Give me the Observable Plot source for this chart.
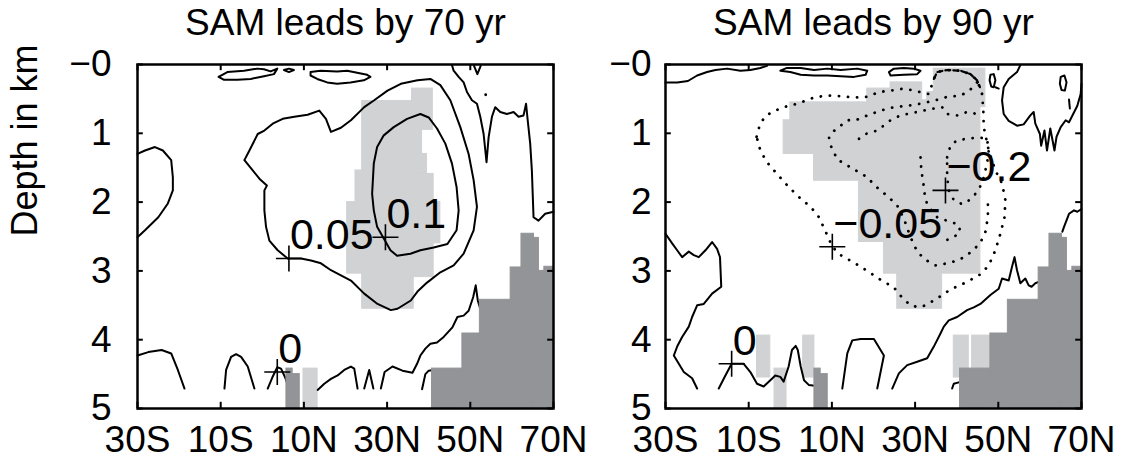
<!DOCTYPE html>
<html><head><meta charset="utf-8">
<script src="https://cdn.jsdelivr.net/npm/d3@7"></script>
<script src="https://cdn.jsdelivr.net/npm/@observablehq/plot@0.6"></script>
<style>
body{margin:0;background:#fff;}
#wrap{position:relative;width:1123px;height:464px;overflow:hidden;background:#fff;}
#wrap > div{position:absolute;top:0;}
svg{background:transparent !important;}
</style></head>
<body><div id="wrap"><div id="p1" style="left:0px"></div><div id="p2" style="left:560px"></div></div>
<script>
// ---------- axes ----------
const LAT_TICKS = [-30, -10, 10, 30, 50, 70];
const LAT_LABELS = ["30S", "10S", "10N", "30N", "50N", "70N"];
const DEPTH_TICKS = [0, 1, 2, 3, 4, 5];
const DEPTH_LABELS = ["\u22120", "1", "2", "3", "4", "5"];
const TITLES = ["SAM leads by 70 yr", "SAM leads by 90 yr"];
const Y_LABEL = "Depth in km";

// ---------- bottom topography [lat1, lat2, top depth] ----------
const topography = [[5.8,7.3,4.42],[7.3,9.0,4.5],[40.8,48.1,4.42],[48.1,52.3,3.91],[52.3,59.7,3.42],[59.7,62.3,2.95],[62.3,65.3,2.46],[65.3,66.5,2.52],[66.5,67.8,3.0],[67.8,70,2.94]];

// ---------- significance shading [lat1, lat2, depth1, depth2] ----------
const shade70 = [[20.4,24.0,2.0,3.04],[22.4,24.0,1.54,2.0],[24.0,36.4,0.53,3.55],[36.0,41.0,0.35,0.95],[36.0,38.4,0.95,1.3],[36.0,39.6,1.3,1.59],[36.0,41.2,1.59,2.0],[36.0,42.8,2.0,2.6],[36.0,41.2,2.6,3.09],[9.9,13.3,4.42,5.0]];
const shade90 = [[-1.6,0.0,0.81,1.30],[0.0,5.7,0.55,1.30],[5.7,16.5,0.55,1.69],[16.5,18.5,0.55,2.58],[18.5,22.5,0.35,2.58],[22.5,24.1,0.35,3.04],[24.1,25.7,0.26,3.04],[25.7,31.7,0.26,3.55],[31.7,32.9,0.52,3.55],[32.9,34.5,0.40,3.55],[34.5,36.5,0.06,3.55],[36.5,45.7,0.06,3.04],[45.7,46.9,0.06,0.62],[-8.0,-4.8,3.94,4.55],[-3.8,-0.9,4.42,5.0],[3.1,5.8,3.94,4.55],[39.3,42.9,3.94,4.55],[43.7,48.1,3.94,4.42]];

// ---------- panel 1 (70 yr) contours [lat, depth] ----------
const c70_p05 = [[-4.3,1.39],[-3.1,1.25],[-1.1,1.01],[0.5,0.96],[2.5,0.86],[4.9,0.79],[7.7,0.76],[10.9,0.73],[13.7,0.67],[15.3,0.79],[16.5,0.98],[18.9,0.92],[21.3,0.81],[24.5,0.62],[26.9,0.52],[30.1,0.38],[33.3,0.28],[37.3,0.23],[40.4,0.21],[42.8,0.30],[45.2,0.52],[47.6,0.91],[49.6,1.30],[50.8,1.68],[51.6,2.07],[50.8,2.41],[48.4,2.75],[46.0,2.92],[42.8,3.02],[39.6,3.17],[37.3,3.30],[35.7,3.43],[32.5,3.55],[30.9,3.57],[27.7,3.48],[24.5,3.33],[21.3,3.14],[16.5,2.99],[14.1,2.89],[11.7,2.85],[9.3,2.82],[6.1,2.82],[3.7,2.70],[1.7,2.56],[0.9,2.36],[0.5,2.12],[0.5,1.83],[1.1,1.76],[-0.7,1.66],[-2.3,1.54],[-4.3,1.39]];
const c70_p10 = [[26.4,1.88],[26.8,1.44],[27.6,1.20],[29.2,1.03],[31.6,0.91],[34.8,0.79],[38.0,0.72],[40.0,0.77],[42.0,0.93],[44.0,1.15],[45.6,1.44],[46.7,1.78],[47.2,2.12],[46.7,2.41],[44.5,2.61],[41.2,2.66],[38.0,2.70],[35.6,2.75],[32.4,2.78],[30.8,2.70],[29.2,2.53],[27.6,2.36],[26.8,2.12],[26.4,1.88]];
const c70_west = [[-30,1.30],[-28.2,1.25],[-25.8,1.20],[-23.9,1.25],[-21.9,1.39],[-21.5,1.64],[-21.5,1.83],[-22.7,2.02],[-25.0,2.22],[-28.2,2.41],[-30,2.51]];
const c70_surfA = [[-10.5,0.18],[-8.4,0.11],[-4.4,0.09],[-1.2,0.06],[0.4,0.07],[2.0,0.10],[3.6,0.06],[2.8,0.14],[0.4,0.17],[-2.8,0.21],[-6.0,0.22],[-9.3,0.22],[-10.5,0.18]];
const c70_surfB = [[5.2,0.08],[6.4,0.06],[7.6,0.08],[6.4,0.11],[5.2,0.08]];
const c70_surfC = [[11.6,0.11],[14.0,0.09],[18.0,0.10],[20.4,0.09],[22.8,0.12],[25.2,0.15],[26.0,0.18],[24.4,0.23],[21.2,0.26],[18.0,0.28],[15.6,0.26],[13.2,0.21],[11.6,0.16],[11.6,0.11]];
const c70_north = [[45.6,0.01],[46.0,0.09],[47.2,0.18],[48.4,0.26],[49.2,0.40],[50.4,0.52],[51.6,0.57],[52.4,0.76],[53.2,1.01],[53.9,1.42],[54.4,1.06],[55.2,0.76],[56.0,0.62],[57.2,0.69],[58.8,0.72],[60.4,0.69],[61.6,0.76],[62.8,0.74],[63.4,0.57],[63.8,0.81],[64.4,1.15],[64.8,1.54],[65.0,1.88],[65.2,2.22],[66.4,2.27],[68.0,2.17],[70.0,2.14]];
const c70_vee = [[50.9,0.02],[51.7,0.14],[52.5,0.02]];
const c70_b1 = [[-30,4.23],[-27.4,4.18],[-24.2,4.15],[-21.9,4.20],[-20.3,4.44],[-18.7,4.71]];
const c70_b2 = [[-9.1,4.71],[-8.7,4.44],[-7.5,4.25],[-6.3,4.21],[-5.1,4.25],[-3.5,4.39],[-1.9,4.71]];
const c70_b3 = [[1.3,4.71],[2.4,4.55],[3.6,4.40],[4.5,4.42],[5.5,4.55],[5.9,4.62]];
const c70_b4 = [[13.3,4.73],[14.9,4.64],[16.5,4.57],[18.1,4.52],[19.7,4.44],[21.3,4.39],[22.1,4.42],[22.9,4.71]];
const c70_b5 = [[24.5,4.71],[25.7,4.44],[26.7,4.71]];
const c70_b6 = [[28.5,4.71],[29.4,4.47],[31.3,4.39],[33.7,4.45],[36.1,4.48],[37.2,4.35],[38.0,4.23],[39.2,4.13],[40.4,4.06],[42.0,4.04],[43.6,3.96],[45.7,3.82],[46.9,3.67],[48.4,3.65],[49.6,3.58],[50.7,3.38],[51.3,3.21],[51.8,3.43],[52.4,3.55]];
const c70_b7 = [[38.4,4.72],[39.2,4.50],[40.0,4.45],[41.0,4.44]];
const c70_dots = [[53.7,0.44],[53.7,0.53]];
const plus70 = [[6.4,2.82,"0.05"],[29.6,2.51,"0.1"],[3.6,4.47,"0"]];

// ---------- panel 2 (90 yr) contours [lat, depth] ----------
const c90_surfW = [[-30,0.26],[-27.2,0.26],[-24.6,0.24],[-22.4,0.16],[-20.0,0.11],[-18.0,0.08],[-15.2,0.06],[-12.0,0.09],[-9.6,0.08],[-7.2,0.05],[-5.6,0.02]];
const c90_surfA = [[-2.4,0.09],[0.0,0.11],[2.5,0.15],[5.7,0.16],[8.9,0.16],[12.1,0.17],[15.3,0.18],[18.1,0.15],[18.5,0.09],[16.1,0.06],[12.1,0.08],[8.9,0.06],[5.7,0.08],[2.5,0.05],[-0.8,0.05],[-2.4,0.09]];
const c90_surfB = [[23.7,0.11],[24.9,0.06],[27.3,0.05],[29.7,0.06],[31.3,0.09],[30.5,0.14],[27.3,0.15],[24.1,0.16],[23.7,0.11]];
const c90_north = [[55.3,0.01],[54.5,0.11],[52.5,0.21],[51.3,0.33],[50.9,0.52],[51.3,0.72],[52.5,0.82],[54.5,0.89],[56.1,0.87],[57.7,0.74],[58.5,0.69],[58.9,0.86],[60.0,1.01],[60.3,1.18],[61.1,0.96],[61.7,1.25],[62.5,0.93],[63.5,1.25],[64.0,1.05],[65.0,0.91],[66.2,0.81],[67.0,0.84],[68.0,0.72],[69.0,0.60],[69.8,0.43],[70.0,0.28]];
const c90_loopA = [[48.1,0.15],[48.9,0.14],[49.3,0.23],[48.9,0.33],[48.3,0.32],[47.9,0.23],[48.1,0.15]];
const c90_tailA = [[49.3,0.33],[50.1,0.35]];
const c90_loopB = [[65.0,0.18],[65.9,0.16],[66.4,0.26],[66.0,0.38],[65.2,0.37],[64.8,0.28],[65.0,0.18]];
const c90_tickB = [[67.0,0.51],[67.2,0.64]];
const c90_west = [[-30.0,2.46],[-28.4,2.60],[-27.2,2.70],[-26.0,2.80],[-24.4,2.72],[-23.2,2.77],[-22.0,2.80],[-20.4,2.70],[-18.8,2.58],[-17.6,2.68],[-16.9,2.80],[-16.6,3.23],[-18.8,3.33],[-20.8,3.48],[-22.4,3.50],[-23.6,3.67],[-24.4,3.81],[-26.0,3.96],[-27.2,4.10],[-28.0,4.23],[-26.8,4.35],[-25.6,4.47],[-23.6,4.56],[-22.4,4.71]];
const c90_b1 = [[-17.2,4.71],[-15.6,4.52],[-14.1,4.35],[-11.2,4.35],[-9.6,4.47],[-8.0,4.64],[-6.4,4.68],[-4.8,4.59],[-3.6,4.52],[-2.4,4.54],[-1.6,4.61],[-0.4,4.39],[0.4,4.15],[1.3,4.09],[1.8,4.15],[2.5,4.39],[3.3,4.59],[4.5,4.66],[5.8,4.67]];
const c90_b2 = [[12.5,4.71],[13.7,4.20],[14.9,4.01],[16.9,3.99],[20.1,3.99],[22.5,4.23],[20.9,4.71]];
const c90_b3 = [[24.5,4.71],[26.1,4.49],[28.1,4.37],[30.5,4.32],[32.9,4.27],[34.5,4.10],[36.1,3.91],[36.9,3.81],[38.1,3.72],[40.1,3.67],[42.5,3.57],[44.1,3.53],[45.7,3.48],[48.1,3.35],[50.1,3.26],[50.9,3.11],[52.5,3.14],[53.3,2.94],[53.9,2.80],[54.5,2.99],[55.3,3.18],[56.5,3.11],[57.3,3.21],[58.0,3.23],[58.9,3.18],[59.7,3.16],[60.5,3.18]];
const c90_b4 = [[38.9,4.71],[39.3,4.64],[40.5,4.62],[41.2,4.62]];
const c90_east = [[65.4,2.43],[65.8,2.36],[67.0,2.17],[68.2,2.12],[69.0,2.14],[70.0,2.10]];
// negative (dotted) contours
const c90_n05 = [[-8.1,1.05],[-7.3,0.87],[-6.0,0.75],[-4.0,0.68],[-1.6,0.62],[1.7,0.57],[5.7,0.48],[8.9,0.45],[12.1,0.46],[15.3,0.48],[18.5,0.47],[21.3,0.40],[24.1,0.38],[27.3,0.35],[30.5,0.39],[33.3,0.43],[34.5,0.21],[35.3,0.11],[37.7,0.08],[40.9,0.09],[43.3,0.14],[44.9,0.23],[46.1,0.43],[46.4,0.67],[46.5,0.91],[47.7,1.25],[49.3,1.54],[50.9,1.73],[51.7,1.97],[51.5,2.22],[50.5,2.46],[49.3,2.70],[47.7,2.92],[45.7,3.05],[42.5,3.16],[38.5,3.27],[35.3,3.40],[32.5,3.50],[30.9,3.53],[28.9,3.50],[26.9,3.39],[24.9,3.24],[21.7,3.13],[18.5,3.00],[15.3,2.88],[12.1,2.77],[10.1,2.65],[8.5,2.43],[6.9,2.22],[4.9,2.07],[2.5,1.95],[-0.4,1.78],[-3.2,1.59],[-5.6,1.42],[-7.2,1.25],[-8.1,1.05]];
const c90_n10 = [[44.9,0.26],[42.9,0.39],[40.9,0.45],[37.7,0.47],[34.9,0.52],[31.3,0.57],[28.1,0.60],[24.9,0.62],[21.7,0.67],[18.5,0.74],[15.7,0.81],[13.7,0.81],[11.9,0.90],[10.2,0.98],[9.3,1.06],[9.8,1.19],[11.3,1.38],[14.6,1.50],[18.3,1.63],[20.9,1.79],[23.7,1.93],[25.7,2.05],[27.3,2.24],[28.9,2.51],[30.5,2.72],[32.5,2.84],[34.9,2.92],[37.7,2.89],[40.1,2.85],[42.1,2.79],[44.1,2.69],[45.7,2.59],[46.9,2.43],[47.5,2.22],[47.5,2.02]];
const c90_n15 = [[16.5,1.08],[18.1,1.01],[20.9,0.96],[24.1,0.81],[26.5,0.74],[30.5,0.69],[34.5,0.64],[36.5,0.62],[37.7,0.72],[40.1,0.74],[42.5,0.69],[44.9,0.72],[46.1,0.76]];
const c90_n15b = [[31.3,1.35],[31.5,1.54],[32.0,1.73],[32.1,1.80],[32.5,1.97],[33.3,2.07],[35.3,2.22],[38.5,2.29],[40.3,2.32],[40.9,2.43],[39.3,2.51],[37.3,2.56]];
const c90_n20 = [[37.7,1.35],[38.5,1.18],[40.1,1.10],[42.5,1.08],[45.3,1.06],[47.3,1.08],[47.7,1.25],[47.3,1.44],[46.1,1.73],[44.5,1.88],[42.5,2.00],[41.3,2.03],[39.3,1.97],[38.1,1.83],[37.7,1.63],[37.7,1.35]];
const c90_arc = [[34.5,0.21],[35.3,0.11],[37.7,0.08],[40.9,0.09],[43.3,0.14],[44.9,0.23],[45.6,0.33]];
const plus90 = [[10.1,2.65,"\u22120.05"],[37.3,1.83,"\u22120.2"],[-14.1,4.35,"0"]];

// ---------- helpers ----------
const LIGHT = "#d1d2d4", DARK = "#929497";
const toRows = (lines) => lines.flatMap((pts, id) => pts.map(([lat, depth]) => ({id, lat, depth})));
const plusSymbol = {draw(ctx, size) { const r = Math.sqrt(size / Math.PI); ctx.moveTo(-r, 0); ctx.lineTo(r, 0); ctx.moveTo(0, -r); ctx.lineTo(0, r); }};

function panel({title, shade, solid, dotted, dashed, plus, width, ml, mr, yPad, yLabel}) {
  const lat0 = LAT_TICKS[0], lat1 = LAT_TICKS[LAT_TICKS.length - 1];
  const d0 = DEPTH_TICKS[0], d1 = DEPTH_TICKS[DEPTH_TICKS.length - 1];
  const marks = [
    Plot.rect(shade, {x1: d => d[0], x2: d => d[1], y1: d => d[2], y2: d => d[3], fill: LIGHT, stroke: LIGHT, strokeWidth: 1}),
    Plot.line(toRows(solid), {x: "lat", y: "depth", z: "id", stroke: "black", strokeWidth: 2, strokeLinejoin: "round"}),
    Plot.line(toRows(dotted), {x: "lat", y: "depth", z: "id", stroke: "black", strokeWidth: 2.8, strokeDasharray: "0.1 9", strokeLinecap: "round"}),
    Plot.line(toRows(dashed), {x: "lat", y: "depth", z: "id", stroke: "black", strokeWidth: 2.2, strokeDasharray: "5 3"}),
    Plot.rect(topography, {x1: d => d[0], x2: d => d[1], y1: d => d[2], y2: () => d1, fill: DARK, stroke: DARK, strokeWidth: 1}),
    Plot.dot(plus, {x: d => d[0], y: d => d[1], symbol: plusSymbol, r: 13, stroke: "black", strokeWidth: 1.6, fill: "none"}),
    Plot.text(plus, {x: d => d[0], y: d => d[1], text: d => d[2], textAnchor: "start", lineAnchor: "middle", dx: 1, dy: -23, fontSize: 43}),
    Plot.frame({stroke: "black", strokeWidth: 2.5}),
    Plot.ruleX(LAT_TICKS, {x: d => d, y1: () => d0, y2: () => d0 + 0.09, stroke: "black", strokeWidth: 2}),
    Plot.ruleX(LAT_TICKS, {x: d => d, y1: () => d1 - 0.09, y2: () => d1, stroke: "black", strokeWidth: 2}),
    Plot.ruleY(DEPTH_TICKS, {y: d => d, x1: () => lat0, x2: () => lat0 + 1.4, stroke: "black", strokeWidth: 2}),
    Plot.ruleY(DEPTH_TICKS, {y: d => d, x1: () => lat1 - 1.4, x2: () => lat1, stroke: "black", strokeWidth: 2}),
    Plot.text(LAT_TICKS, {x: d => d, y: () => d1, text: (d, i) => LAT_LABELS[i], dy: 32, fontSize: 37, lineAnchor: "middle"}),
    Plot.text(DEPTH_TICKS, {x: () => lat0, y: d => d, text: (d, i) => DEPTH_LABELS[i], textAnchor: "end", lineAnchor: "middle", dx: -yPad, fontSize: 37}),
    Plot.text([title], {frameAnchor: "top", text: d => d, dy: -41, fontSize: 37, lineAnchor: "middle"})
  ];
  if (yLabel) marks.push(Plot.text([yLabel], {frameAnchor: "left", text: d => d, rotate: -90, dx: -112, fontSize: 36, lineAnchor: "middle"}));
  return Plot.plot({
    width, height: 464, marginLeft: ml, marginRight: mr, marginTop: 64, marginBottom: 56,
    style: {fontFamily: "'Liberation Sans', Arial, sans-serif", fontSize: "37px", background: "transparent", overflow: "visible"},
    x: {domain: [lat0, lat1], axis: null},
    y: {domain: [d0, d1], reverse: true, axis: null},
    marks
  });
}

document.getElementById("p1").appendChild(panel({
  title: TITLES[0], shade: shade70,
  solid: [c70_p05, c70_p10, c70_west, c70_surfA, c70_surfB, c70_surfC, c70_north, c70_vee, c70_b1, c70_b2, c70_b3, c70_b4, c70_b5, c70_b6, c70_b7],
  dotted: [c70_dots], dashed: [], plus: plus70,
  width: 600, ml: 137, mr: 47, yPad: 26, yLabel: Y_LABEL
}));
document.getElementById("p2").appendChild(panel({
  title: TITLES[1], shade: shade90,
  solid: [c90_surfW, c90_surfA, c90_surfB, c90_north, c90_loopA, c90_tailA, c90_loopB, c90_tickB, c90_west, c90_b1, c90_b2, c90_b3, c90_b4, c90_east],
  dotted: [c90_n05, c90_n10, c90_n15, c90_n15b, c90_n20], dashed: [c90_arc], plus: plus90,
  width: 563, ml: 105, mr: 42, yPad: 14, yLabel: null
}));
</script>
</body></html>
